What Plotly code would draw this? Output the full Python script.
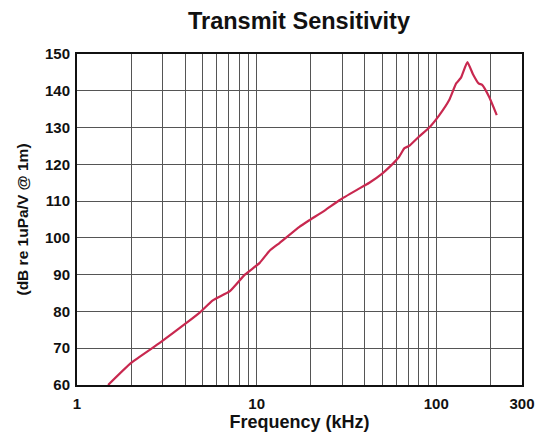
import plotly.graph_objects as go

freq_khz = [1.49, 2.0, 2.9, 4.1, 4.8, 5.7, 7.1, 8.6, 10.4, 11.8, 13.4, 17.3, 19.8, 24, 29, 36,
            42.4, 50, 55, 62, 66.5, 70.6, 80, 91.7, 104, 118, 129, 137, 149, 160, 172, 180, 197, 217]
sensitivity_db = [60, 66, 71.5, 77, 79.6, 83, 85.5, 90, 93.2, 96.5, 98.6, 103, 104.9, 107.5, 110.3, 113,
                  115, 117.5, 119.3, 122, 124.4, 125, 127.5, 130.1, 133.4, 137.5, 142, 143.5, 147.8, 144.5, 142, 141.6, 138.3, 133.4]

x_grid_vals = [1, 2, 3, 4, 5, 6, 7, 8, 9, 10, 20, 30, 40, 50, 60, 70, 80, 90, 100, 200, 300]
x_labels = {1: "1", 10: "10", 100: "100", 300: "300"}
y_ticks = [60, 70, 80, 90, 100, 110, 120, 130, 140, 150]

fig = go.Figure()
fig.add_trace(go.Scatter(x=freq_khz, y=sensitivity_db, mode="lines",
                         line=dict(color="#c8284f", width=2.2, shape="spline", smoothing=0.4),
                         showlegend=False))

font_family = "Liberation Sans, Arial, sans-serif"
W, H = 535, 438
fig.update_layout(
    width=W, height=H,
    margin=dict(l=77, r=13, t=54, b=53),
    paper_bgcolor="white", plot_bgcolor="white",
    title=dict(text="<b>Transmit Sensitivity</b>", x=299 / W, xanchor="center",
               y=1 - 21 / H, yanchor="middle", font=dict(family=font_family, size=23.5, color="#111")),
    xaxis=dict(type="log", range=[0, 2.47713], tickvals=x_grid_vals,
               ticktext=["<b>%s</b>" % x_labels[v] if v in x_labels else "" for v in x_grid_vals],
               showgrid=True, gridcolor="#555", gridwidth=1, ticks="",
               showline=True, linecolor="#111", linewidth=2, mirror=True,
               tickfont=dict(family=font_family, size=15, color="#111"),
               ticklabelstandoff=4,
               automargin=False,
               title=dict(text="<b>Frequency (kHz)</b>", standoff=2,
                          font=dict(family=font_family, size=18, color="#111")),
               zeroline=False),
    yaxis=dict(range=[60, 150], tickvals=y_ticks,
               ticktext=["<b>%d</b>" % v for v in y_ticks],
               showgrid=True, gridcolor="#555", gridwidth=1, ticks="",
               showline=True, linecolor="#111", linewidth=2, mirror=True,
               tickfont=dict(family=font_family, size=15, color="#111"),
               ticklabelstandoff=2,
               automargin=False,
               title=dict(text="<b>(dB re 1uPa/V @ 1m)</b>", standoff=13,
                          font=dict(family=font_family, size=15.5, color="#111")),
               zeroline=False),
)

fig.write_html("out.html", config={"displayModeBar": False},
               post_script="document.body.style.margin='0';document.body.style.overflow='hidden';")
